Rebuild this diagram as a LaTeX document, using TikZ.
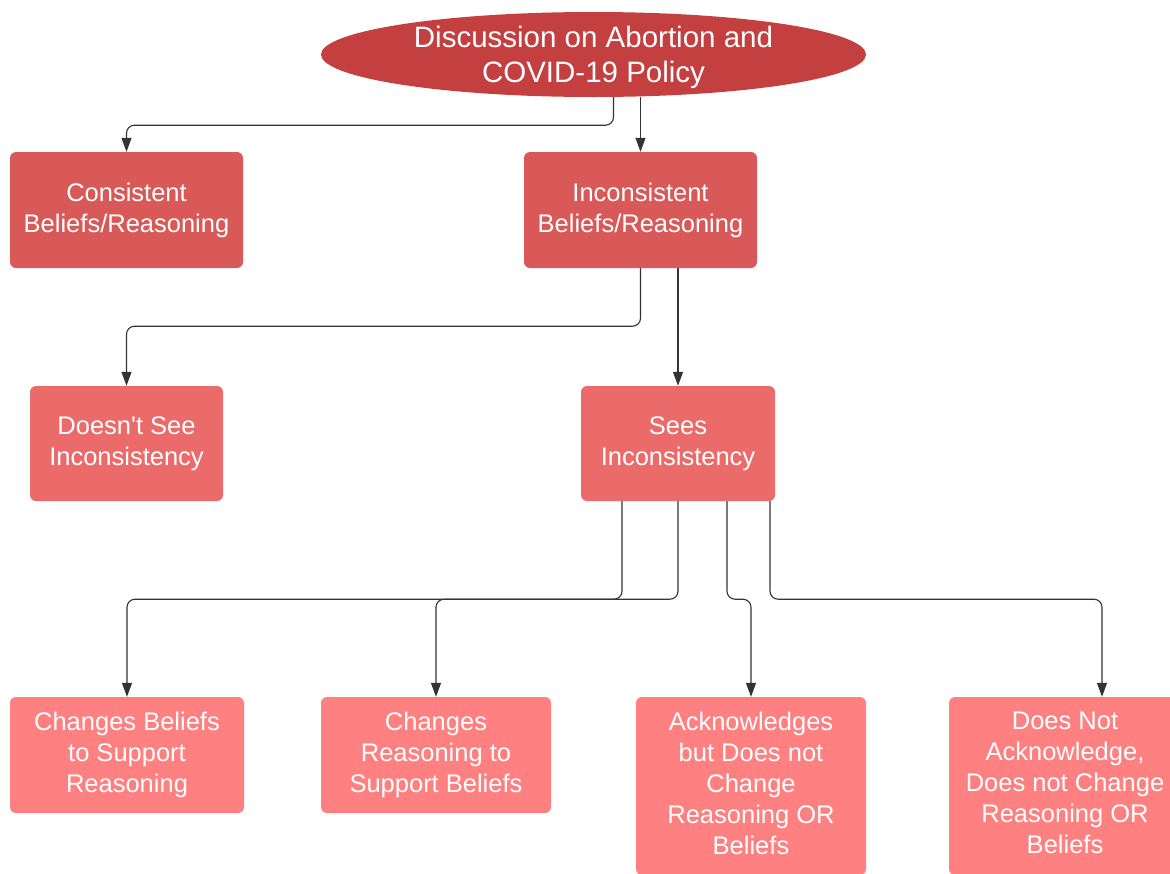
\documentclass[tikz,border=0pt]{standalone}
\usepackage{fontspec}
\newfontfamily\lsans{Liberation Sans}
\usetikzlibrary{arrows.meta,backgrounds}
\definecolor{cEll}{RGB}{196,64,64}
\definecolor{cOne}{RGB}{217,88,88}
\definecolor{cTwo}{RGB}{235,107,107}
\definecolor{cThree}{RGB}{255,128,128}
\definecolor{cLine}{RGB}{51,51,51}
\tikzset{
  box/.style={rectangle, rounded corners=6pt, draw=none, inner sep=0pt, align=center,
    text=white, font=\lsans\fontsize{25.5}{31}\selectfont},
  conn/.style={draw=cLine, line width=1.1pt, rounded corners=8pt,
    -{Triangle[width=10pt,length=14pt]}},
}
\begin{document}
\begin{tikzpicture}[x=1pt,y=-1pt]
\useasboundingbox (0,0) rectangle (1170,873);
\clip (0,0) rectangle (1170,873);
\node[rectangle, minimum width=545pt, minimum height=85pt, inner sep=0pt,
  align=center, text=white, font=\lsans\fontsize{29.5}{35.5}\selectfont] (ell) at (593.5,54.5)
  {\rule{0pt}{27.5pt}Discussion on Abortion and\\COVID-19 Policy};
\node[box, fill=cOne, minimum width=233pt, minimum height=116pt] (cons) at (126.5,210) {Consistent\\Beliefs/Reasoning};
\node[box, fill=cOne, minimum width=233pt, minimum height=116pt] (inc) at (640.5,210) {Inconsistent\\Beliefs/Reasoning};
\node[box, fill=cTwo, minimum width=193pt, minimum height=115pt] (dns) at (126.5,443.5) {Doesn't See\\Inconsistency};
\node[box, fill=cTwo, minimum width=194pt, minimum height=115pt] (sees) at (678,443.5) {Sees\\Inconsistency};
\node[box, fill=cThree, minimum width=234pt, minimum height=116pt] (chb) at (127,755) {Changes Beliefs\\to Support\\Reasoning};
\node[box, fill=cThree, minimum width=230pt, minimum height=116pt] (chr) at (436,755) {Changes\\Reasoning to\\Support Beliefs};
\node[box, fill=cThree, minimum width=230pt, minimum height=178pt] (ack) at (751,786) {Acknowledges\\but Does not\\Change\\Reasoning OR\\Beliefs\rule[-6pt]{0pt}{6pt}};
\node[box, fill=cThree, minimum width=232pt, minimum height=178pt] (dna) at (1065,786) {Does Not\\Acknowledge,\\Does not Change\\Reasoning OR\\Beliefs\rule[-6pt]{0pt}{6pt}};
\begin{scope}[on background layer]
\fill[cEll] (ell.center) ellipse [x radius=272.5, y radius=42.5];
\draw[conn] ([xshift=20pt]ell.south) -- ++(0,28) -| (cons.north);
\draw[conn] (inc.north |- ell.south) -- (inc.north);
\draw[conn] (inc.south) -- ++(0,58) -| (dns.north);
\draw[conn] (sees.north |- inc.south) -- (sees.north);
\draw[conn] ([xshift=-56pt]sees.south) -- ++(0,98) -| (chb.north);
\draw[conn] (sees.south) -- ++(0,98) -| (chr.north);
\draw[conn] ([xshift=49pt]sees.south) -- ++(0,98) -| (ack.north);
\draw[conn] ([xshift=92pt]sees.south) -- ++(0,98) -| ([xshift=37pt]dna.north);
\end{scope}
\end{tikzpicture}
\end{document}
